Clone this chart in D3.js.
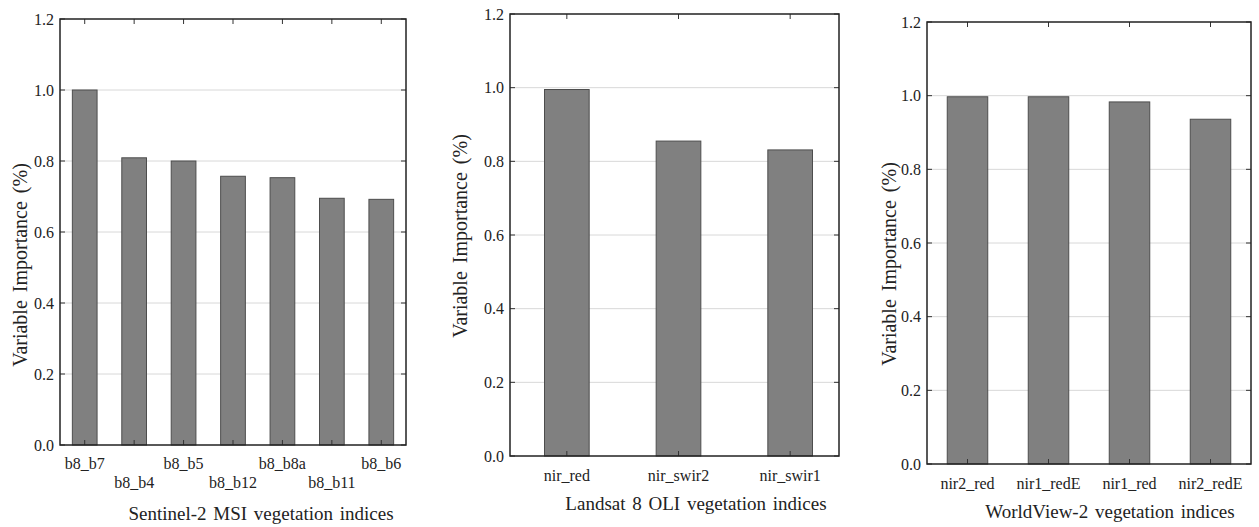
<!DOCTYPE html>
<html>
<head>
<meta charset="utf-8">
<script src="https://cdn.jsdelivr.net/npm/d3@7"></script>
<style>
  body { margin: 0; background: #fff; }
  svg text { font-family: "Liberation Serif", "Times New Roman", serif; fill: #222; }
</style>
</head>
<body>
<div id="chart"></div>
<script>
// Data
var s2Names = ["b8_b7", "b8_b4", "b8_b5", "b8_b12", "b8_b8a", "b8_b11", "b8_b6"];
var s2Values = [1.0, 0.809, 0.80, 0.757, 0.753, 0.695, 0.692];

var l8Names = ["nir_red", "nir_swir2", "nir_swir1"];
var l8Values = [0.995, 0.855, 0.831];

var wvNames = ["nir2_red", "nir1_redE", "nir1_red", "nir2_redE"];
var wvValues = [0.997, 0.997, 0.983, 0.936];

var yTicks = [0.0, 0.2, 0.4, 0.6, 0.8, 1.0, 1.2];

var svg = d3.select("#chart").append("svg")
    .attr("width", 1259)
    .attr("height", 527);

// Panel layouts (frame box in pixels, bar band range may be shifted a bit)
var panels = [
    { names: s2Names, values: s2Values, title: "Sentinel-2 MSI vegetation indices",
      left: 60, right: 406, top: 19, bottom: 445, band: [60, 406], barFrac: 0.5, stagger: true,
      labelY: 469, titleX: 261, titleY: 520, yTitleX: 27, yTitleY: 265 },
    { names: l8Names, values: l8Values, title: "Landsat 8 OLI vegetation indices",
      left: 510, right: 839, top: 14, bottom: 456, band: [511, 846], barFrac: 0.4, stagger: false,
      labelY: 481, titleX: 696, titleY: 510, yTitleX: 467, yTitleY: 236 },
    { names: wvNames, values: wvValues, title: "WorldView-2 vegetation indices",
      left: 927, right: 1251, top: 22, bottom: 464, band: [927, 1251], barFrac: 0.5, stagger: false,
      labelY: 489, titleX: 1110, titleY: 518, yTitleX: 896, yTitleY: 264 }
];

panels.forEach(drawPanel);

function drawPanel(p) {
    var g = svg.append("g");

    var x = d3.scaleBand()
        .domain(p.names)
        .range(p.band)
        .paddingInner(1 - p.barFrac)
        .paddingOuter((1 - p.barFrac) / 2);

    var y = d3.scaleLinear()
        .domain([0, 1.2])
        .range([p.bottom, p.top]);

    // Gridlines
    g.selectAll(".grid")
        .data(yTicks.filter(function (d) { return d > 0 && d < 1.2; }))
        .enter().append("line")
        .attr("x1", p.left).attr("x2", p.right)
        .attr("y1", function (d) { return y(d); })
        .attr("y2", function (d) { return y(d); })
        .style("stroke", "#d8d8d8")
        .style("stroke-width", 1);

    // Bars
    g.selectAll(".bar")
        .data(p.names)
        .enter().append("rect")
        .attr("x", function (d) { return x(d); })
        .attr("width", x.bandwidth())
        .attr("y", function (d, i) { return y(p.values[i]); })
        .attr("height", function (d, i) { return y(0) - y(p.values[i]); })
        .style("fill", "#808080")
        .style("stroke", "#4d4d4d")
        .style("stroke-width", 1);

    // Inward ticks on all four sides
    var tickLen = 5;
    var xc = function (d) { return x(d) + x.bandwidth() / 2; };
    g.selectAll(".tickTop").data(p.names).enter().append("line")
        .attr("x1", xc).attr("x2", xc)
        .attr("y1", p.top).attr("y2", p.top + tickLen)
        .style("stroke", "#333");
    g.selectAll(".tickBot").data(p.names).enter().append("line")
        .attr("x1", xc).attr("x2", xc)
        .attr("y1", p.bottom).attr("y2", p.bottom - tickLen)
        .style("stroke", "#333");
    g.selectAll(".tickL").data(yTicks).enter().append("line")
        .attr("x1", p.left).attr("x2", p.left + tickLen)
        .attr("y1", function (d) { return y(d); })
        .attr("y2", function (d) { return y(d); })
        .style("stroke", "#333");
    g.selectAll(".tickR").data(yTicks).enter().append("line")
        .attr("x1", p.right).attr("x2", p.right - tickLen)
        .attr("y1", function (d) { return y(d); })
        .attr("y2", function (d) { return y(d); })
        .style("stroke", "#333");

    // Frame
    g.append("rect")
        .attr("x", p.left).attr("y", p.top)
        .attr("width", p.right - p.left)
        .attr("height", p.bottom - p.top)
        .style("fill", "none")
        .style("stroke", "#222")
        .style("stroke-width", 1.5);

    // Y tick labels
    g.selectAll(".ylab").data(yTicks).enter().append("text")
        .attr("x", p.left - 6)
        .attr("y", function (d) { return y(d); })
        .attr("dy", "0.35em")
        .attr("text-anchor", "end")
        .style("font-size", "16px")
        .text(function (d) { return d.toFixed(1); });

    // X labels (Sentinel panel staggers them in two rows)
    g.selectAll(".xlab").data(p.names).enter().append("text")
        .attr("x", xc)
        .attr("y", function (d, i) { return p.stagger && i % 2 == 1 ? p.labelY + 19 : p.labelY; })
        .attr("text-anchor", "middle")
        .style("font-size", "16px")
        .text(function (d) { return d; });

    // Axis titles
    g.append("text")
        .attr("x", p.titleX).attr("y", p.titleY)
        .attr("text-anchor", "middle")
        .style("font-size", "19px")
        .style("word-spacing", "2px")
        .text(p.title);

    g.append("text")
        .attr("transform", "translate(" + p.yTitleX + "," + p.yTitleY + ")rotate(-90)")
        .attr("text-anchor", "middle")
        .style("font-size", "20px")
        .style("word-spacing", "3px")
        .text("Variable Importance (%)");
}
</script>
</body>
</html>
